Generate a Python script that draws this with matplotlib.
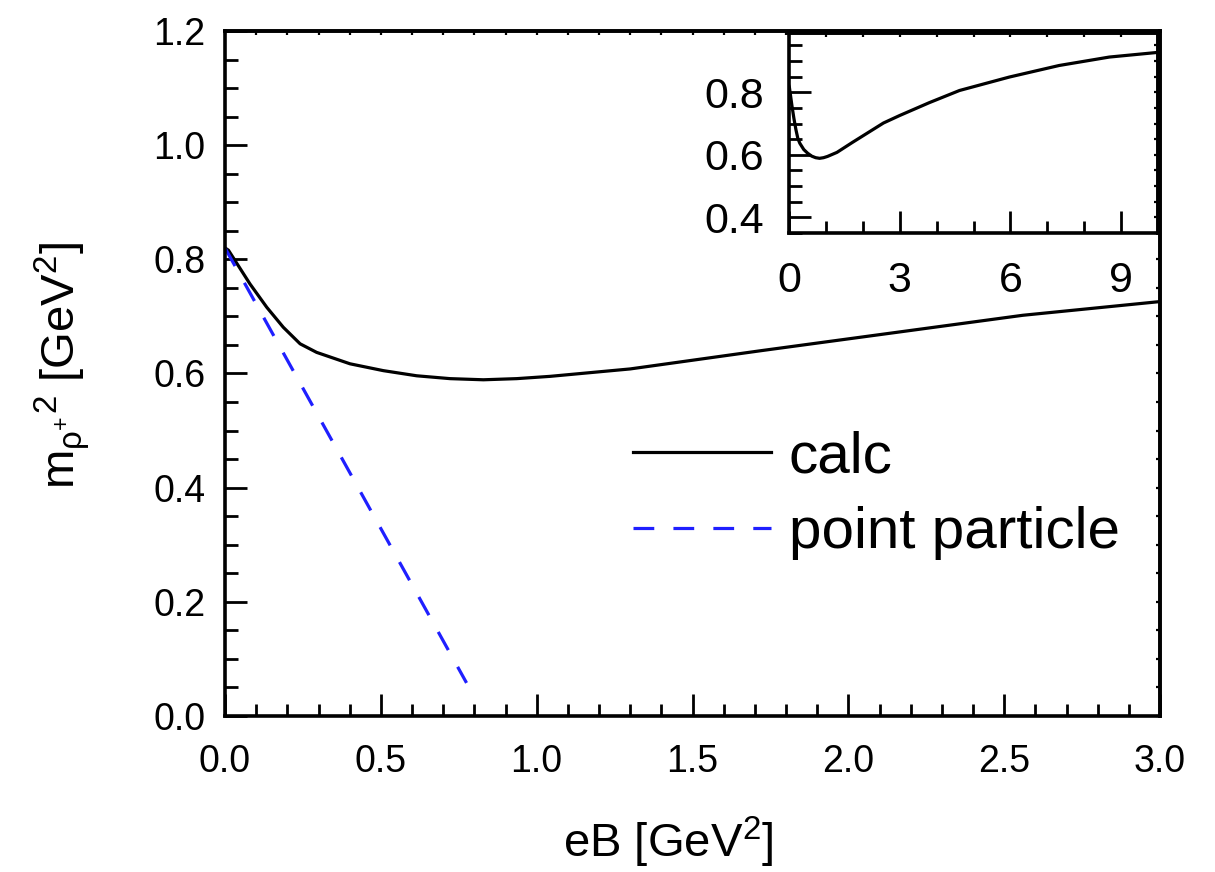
import numpy as np
import matplotlib
matplotlib.use("Agg")
import matplotlib.pyplot as plt
from matplotlib.ticker import MultipleLocator, FormatStrFormatter

# calculated rho+ mass squared vs. field strength
eb_calc = [0.0, 0.011, 0.080, 0.134, 0.187, 0.241, 0.294, 0.401, 0.508, 0.615,
           0.722, 0.829, 0.936, 1.043, 1.30, 1.72, 2.14, 2.56, 3.0, 3.8,
           4.62, 5.97, 7.32, 8.68, 10.0]
m2_calc = [0.820, 0.816, 0.757, 0.716, 0.681, 0.652, 0.637, 0.617, 0.605, 0.596,
           0.591, 0.589, 0.591, 0.595, 0.608, 0.640, 0.671, 0.702, 0.726, 0.767,
           0.806, 0.849, 0.886, 0.913, 0.928]

# point-particle expectation
eb_point = [0.0, 0.775]
m2_point = [0.820, 0.058]

plt.rcParams["font.family"] = ["Liberation Sans", "DejaVu Sans"]
plt.rcParams["mathtext.fontset"] = "custom"
plt.rcParams["mathtext.rm"] = "Liberation Sans"
plt.rcParams["mathtext.it"] = "Liberation Sans:italic"
plt.rcParams["mathtext.sf"] = "Liberation Sans"

W, H = 1215, 872
fig = plt.figure(figsize=(W / 100, H / 100), dpi=100)


def box(l, t, r, b):
    return [l / W, 1 - b / H, (r - l) / W, (b - t) / H]


SPINE_LW = 2.6
TICK_LW = 2.0


def style_axes(a, xmaj, xmin, ymaj, ymin, labelsize, xpad, ypad, xstep_top, ystep_right):
    a.xaxis.set_major_locator(MultipleLocator(xmaj))
    a.xaxis.set_minor_locator(MultipleLocator(xmin))
    a.yaxis.set_major_locator(MultipleLocator(ymaj))
    a.yaxis.set_minor_locator(MultipleLocator(ymin))
    a.tick_params(which="major", direction="in", length=16, width=TICK_LW,
                  labelsize=labelsize)
    a.tick_params(which="minor", direction="in", length=9, width=TICK_LW)
    a.tick_params(axis="x", pad=xpad)
    a.tick_params(axis="y", pad=ypad)
    for s in a.spines.values():
        s.set_linewidth(SPINE_LW)
    # short ticks on the opposite frame edges
    top = a.secondary_xaxis("top")
    top.xaxis.set_major_locator(MultipleLocator(xstep_top))
    top.tick_params(direction="in", length=3, width=1.6, labeltop=False)
    top.spines["top"].set_linewidth(SPINE_LW)
    right = a.secondary_yaxis("right")
    right.yaxis.set_major_locator(MultipleLocator(ystep_right))
    right.tick_params(direction="in", length=3, width=1.6, labelright=False)
    right.spines["right"].set_linewidth(SPINE_LW)


# main panel
ax = fig.add_axes(box(225, 31, 1160, 716))
ax.plot(eb_calc, m2_calc, color="black", lw=2.3, label="calc")
ax.plot(eb_point, m2_point, color="#1f1fff", lw=2.3, dashes=(6.5, 6),
        label="point particle")
ax.set_xlim(0, 3.0)
ax.set_ylim(0, 1.2)
style_axes(ax, 0.5, 0.1, 0.2, 0.05, 27, 20, 14, 0.1, 0.05)
ax.xaxis.set_major_formatter(FormatStrFormatter("%.1f"))
ax.yaxis.set_major_formatter(FormatStrFormatter("%.1f"))

ax.legend(loc="upper left", bbox_to_anchor=(633 / W, 1 - 430 / H),
          bbox_transform=fig.transFigure, frameon=False, fontsize=42,
          handlelength=2.37, handletextpad=0.3, labelspacing=0.38,
          borderpad=0, borderaxespad=0)

fig.text(668 / W, 1 - 842 / H, r"eB [GeV$^{\mathregular{2}}$]",
         fontsize=34, ha="center", va="center")
fig.text(62 / W, 1 - 365 / H,
         r"$\mathregular{m_{\rho^{+}}{}^{2}}$ [GeV$^{\mathregular{2}}$]",
         fontsize=34, rotation=90, ha="center", va="center")

# inset: wider field range
axin = fig.add_axes(box(789, 33, 1158, 233))
axin.plot(eb_calc, m2_calc, color="black", lw=2.3)
axin.set_xlim(0, 10)
axin.set_ylim(0.35, 0.99)
style_axes(axin, 3, 1, 0.2, 0.05, 31, 20, 18, 1, 0.05)
axin.yaxis.set_major_formatter(FormatStrFormatter("%.1f"))

fig.savefig("out.png", dpi=100)
